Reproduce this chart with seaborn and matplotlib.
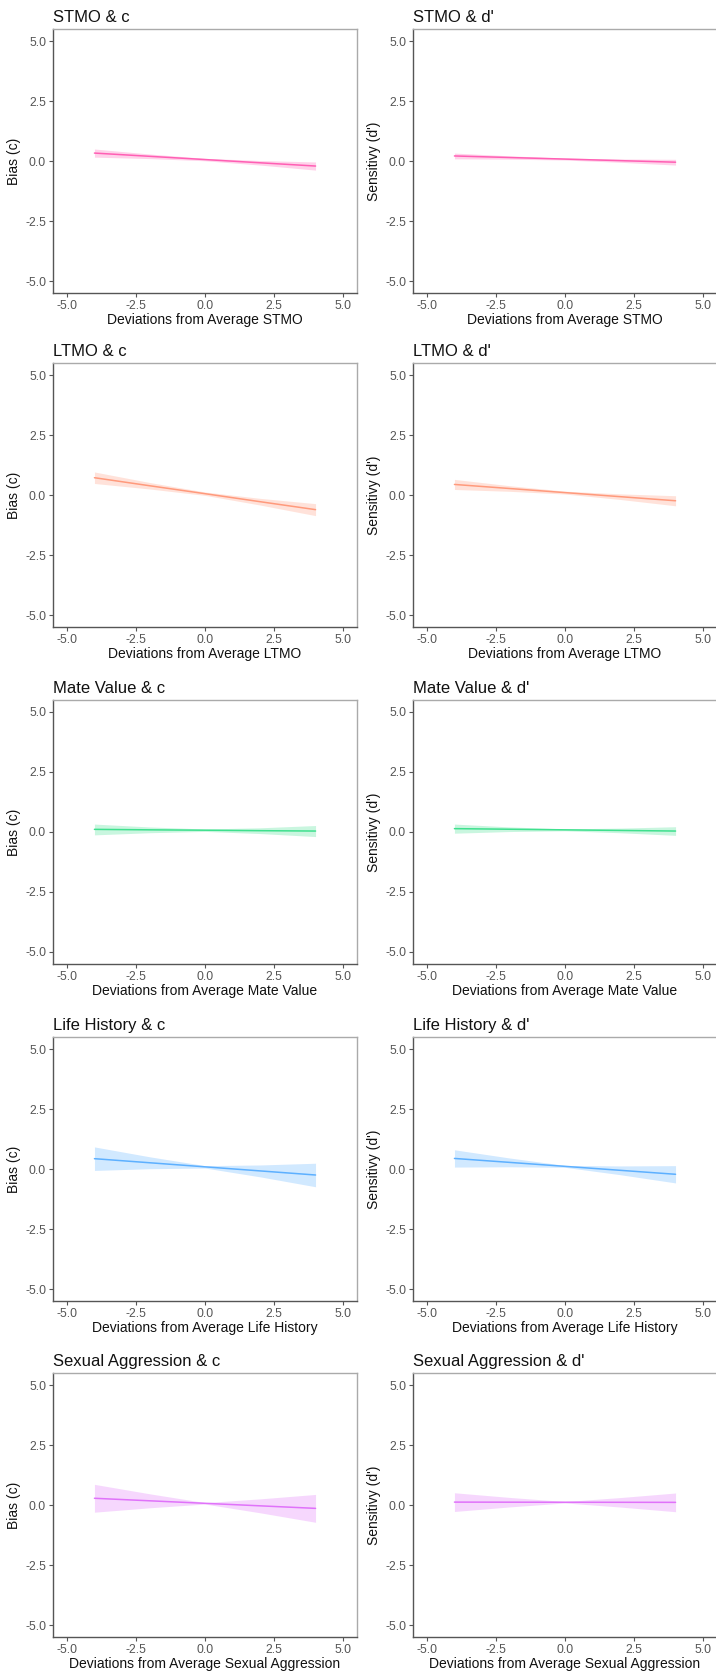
import matplotlib
matplotlib.use("Agg")
import matplotlib.pyplot as plt
import seaborn as sns
import pandas as pd

# Predictors, colours and axis text
predictors = ["STMO", "LTMO", "Mate Value", "Life History", "Sexual Aggression"]
colors = ["#FF5FB4", "#FF9A7C", "#3FE08E", "#5DB0FF", "#E072FA"]
measures = ["c", "d'"]
y_labels = ["Bias (c)", "Sensitivy (d')"]
tick_values = [-5.0, -2.5, 0.0, 2.5, 5.0]

# Fitted lines and 95% bands at these predictor deviations
x_grid = [-4, -2, 0, 2, 4]

c_fit = [
    [0.33, 0.195, 0.06, -0.075, -0.21],
    [0.72, 0.385, 0.055, -0.28, -0.61],
    [0.11, 0.09, 0.075, 0.055, 0.04],
    [0.43, 0.26, 0.09, -0.08, -0.25],
    [0.28, 0.175, 0.07, -0.035, -0.14],
]
c_lo = [
    [0.16, 0.10, 0.01, -0.17, -0.38],
    [0.48, 0.25, -0.015, -0.42, -0.86],
    [-0.12, -0.03, 0.025, -0.065, -0.19],
    [-0.06, 0.012, 0.04, -0.328, -0.74],
    [-0.30, -0.116, 0.04, -0.326, -0.72],
]
c_hi = [
    [0.50, 0.29, 0.11, 0.02, -0.04],
    [0.96, 0.52, 0.125, -0.14, -0.36],
    [0.33, 0.21, 0.125, 0.175, 0.27],
    [0.92, 0.508, 0.14, 0.168, 0.24],
    [0.86, 0.466, 0.10, 0.256, 0.44],
]

d_fit = [
    [0.21, 0.145, 0.08, 0.015, -0.05],
    [0.44, 0.27, 0.10, -0.07, -0.24],
    [0.14, 0.115, 0.09, 0.065, 0.04],
    [0.44, 0.275, 0.11, -0.055, -0.22],
    [0.12, 0.1175, 0.115, 0.1125, 0.11],
]
d_lo = [
    [0.09, 0.076, 0.04, -0.054, -0.17],
    [0.23, 0.153, 0.04, -0.187, -0.45],
    [-0.05, 0.019, 0.05, -0.031, -0.14],
    [0.08, 0.092, 0.07, -0.238, -0.58],
    [-0.27, -0.08, 0.085, -0.085, -0.28],
]
d_hi = [
    [0.33, 0.214, 0.12, 0.084, 0.07],
    [0.65, 0.387, 0.16, 0.047, -0.03],
    [0.33, 0.211, 0.13, 0.161, 0.22],
    [0.80, 0.458, 0.15, 0.128, 0.14],
    [0.51, 0.315, 0.145, 0.31, 0.50],
]

sns.set_theme(style="white")
plt.rcParams["font.family"] = ["Liberation Sans", "DejaVu Sans"]

W, H = 716, 1677
fig = plt.figure(figsize=(W / 100, H / 100), dpi=100)

row_tops = [29, 363, 700, 1037, 1373]
panel_h = 264
col_lefts = [53, 413]
panel_w = 304

series = {
    "c": (c_fit, c_lo, c_hi),
    "d'": (d_fit, d_lo, d_hi),
}

for r, pred in enumerate(predictors):
    for k, meas in enumerate(measures):
        left = col_lefts[k] / W
        bottom = 1 - (row_tops[r] + panel_h) / H
        ax = fig.add_axes([left, bottom, panel_w / W, panel_h / H])
        fit, lo, hi = series[meas]
        df = pd.DataFrame({"x": x_grid, "fit": fit[r], "lo": lo[r], "hi": hi[r]})
        ax.fill_between(df["x"], df["lo"], df["hi"], color=colors[r],
                        alpha=0.28, linewidth=0)
        sns.lineplot(data=df, x="x", y="fit", ax=ax, color=colors[r],
                     linewidth=1.1)

        ax.set_xlim(-5.5, 5.5)
        ax.set_ylim(-5.5, 5.5)
        ax.set_xticks(tick_values)
        ax.set_yticks(tick_values)
        ax.set_xticklabels([f"{v:.1f}" for v in tick_values])
        ax.set_yticklabels([f"{v:.1f}" for v in tick_values])
        ax.tick_params(axis="both", which="both", direction="out", length=3,
                       width=0.8, color="#555555", labelsize=8.8,
                       labelcolor="#555555", pad=2, left=True, bottom=True)
        ax.set_xlabel(f"Deviations from Average {pred}", fontsize=10,
                      color="#111111", labelpad=1)
        ax.set_ylabel(y_labels[k], fontsize=10, color="#111111", labelpad=3)
        ax.set_title(f"{pred} & {meas}", loc="left", fontsize=12,
                     color="#111111", pad=5)
        for side in ["left", "bottom"]:
            ax.spines[side].set_color("#555555")
            ax.spines[side].set_linewidth(1.0)
        for side in ["top", "right"]:
            ax.spines[side].set_color("#aaaaaa")
            ax.spines[side].set_linewidth(1.0)
        ax.grid(False)

fig.savefig("out.png", dpi=100)
